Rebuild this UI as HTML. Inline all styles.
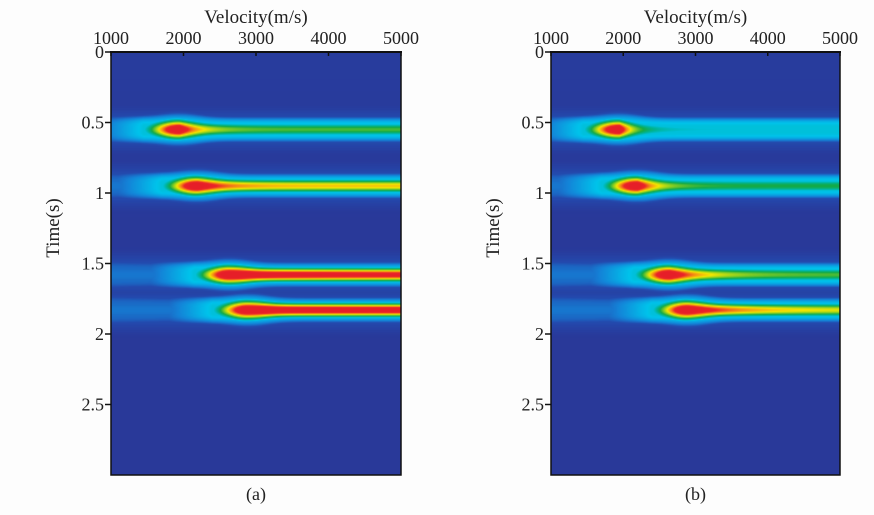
<!DOCTYPE html>
<html><head><meta charset="utf-8">
<style>
html,body{margin:0;padding:0;background:#fdfdfd;}
body{width:874px;height:515px;position:relative;overflow:hidden;font-family:"Liberation Serif",serif;color:#222;}
svg text{font-family:"Liberation Serif",serif;fill:#222;}
</style></head>
<body>
<canvas id="cva" width="290" height="423" style="position:absolute;left:111px;top:52px"></canvas>
<canvas id="cvb" width="289" height="423" style="position:absolute;left:551px;top:52px"></canvas>
<svg id="axes" width="874" height="515" style="position:absolute;left:0;top:0"></svg>
<script>
// data
const xTicks = [1000, 2000, 3000, 4000, 5000];
const yTicks = [0, 0.5, 1, 1.5, 2, 2.5];
const yTickLabels = ["0", "0.5", "1", "1.5", "2", "2.5"];
const panelLabels = ["(a)", "(b)"];
const eventTimes = [0.55, 0.95, 1.58, 1.83];
const eventPeakVel = [1950, 2200, 2650, 2900];
const plateauA = [0.64, 0.8, 0.95, 1.0];
const plateauB = [0.44, 0.6, 0.64, 0.74];
const decayA = [300, 350, 1500, 1500];
const decayB = [250, 300, 500, 700];

const panels = [
  {x0:111, x1:401, canvas:'cva', plateau:plateauA, decay:decayA, label:panelLabels[0]},
  {x0:551, x1:840, canvas:'cvb', plateau:plateauB, decay:decayB, label:panelLabels[1]}
];
const Y0 = 52, Y1 = 475, TMAX = 3.0, VMIN = 1000, VMAX = 5000;

const stops = [
  [0.0, [42,52,148]], [0.2, [35,75,175]], [0.3, [20,130,215]], [0.42,[0,195,235]],
  [0.52,[0,180,150]], [0.6,[20,170,70]], [0.7,[150,210,30]], [0.77,[245,230,0]],
  [0.85,[245,140,20]], [0.92,[235,35,40]], [1.0,[230,30,40]]
];
function cmap(v){
  v=Math.max(0,Math.min(1,v));
  for(let i=1;i<stops.length;i++){
    if(v<=stops[i][0]){
      const a=stops[i-1], b=stops[i], f=(v-a[0])/(b[0]-a[0]);
      return [0,1,2].map(k=>a[1][k]+(b[1][k]-a[1][k])*f);
    }
  }
  return stops[stops.length-1][1];
}

function field(v,t,p){
  let val = 0.04 + 0.03*Math.max(0,1-t/1.2);
  for(let i=0;i<eventTimes.length;i++){
    const t0=eventTimes[i], v0=eventPeakVel[i];
    const dt=t-t0;
    let A;
    if(v<=v0){ A = 1.05*Math.exp(-Math.pow((v-v0)/520,2)); }
    else { A = p.plateau[i] + (1.05-p.plateau[i])*Math.exp(-(v-v0)/p.decay[i]); }
    const wc = 0.058 + 0.022*Math.exp(-Math.pow((v-v0)/300,2)) + 0.03*Math.max(0,(v0-v)/1000);
    const core = A*Math.exp(-Math.pow(dt/wc,2));
    const hs = v>v0-500 ? 1 : Math.max(0.6, 1-(v0-500-v)/1500);
    const wh = 0.095 + 0.03*Math.exp(-Math.pow((v-v0)/350,2)) + 0.015*Math.max(0,(v0-v)/1000);
    const halo = 0.44*hs*Math.exp(-Math.pow(dt/wh,4));
    const glow = 0.28*Math.exp(-Math.pow(dt/0.14,2));
    val = Math.max(val, core, halo, glow);
  }
  return val;
}

panels.forEach(p=>{
  const c=document.getElementById(p.canvas), ctx=c.getContext('2d');
  const W=c.width, H=c.height, img=ctx.createImageData(W,H);
  for(let y=0;y<H;y++){
    const t=(y+0.5)/H*TMAX;
    for(let x=0;x<W;x++){
      const v=VMIN+(x+0.5)/W*(VMAX-VMIN);
      const col=cmap(field(v,t,p));
      const o=(y*W+x)*4;
      img.data[o]=col[0];img.data[o+1]=col[1];img.data[o+2]=col[2];img.data[o+3]=255;
    }
  }
  ctx.putImageData(img,0,0);
});

const svg=document.getElementById('axes');
const NS='http://www.w3.org/2000/svg';
function mk(tag,attrs,parent){const e=document.createElementNS(NS,tag);for(const k in attrs)e.setAttribute(k,attrs[k]);(parent||svg).appendChild(e);return e;}

panels.forEach((p,pi)=>{
  const xs=v=>p.x0+(v-VMIN)/(VMAX-VMIN)*(p.x1-p.x0);
  const ys=t=>Y0+t/TMAX*(Y1-Y0);
  const g=mk('g',{});
  
  
  const fr=mk('rect',{x:p.x0,y:Y0,width:p.x1-p.x0,height:Y1-Y0,fill:'none',stroke:'#111','stroke-width':1.5},g);
  
  
  mk('line',{x1:p.x0-1,y1:Y0,x2:p.x1+1,y2:Y0,stroke:'#111','stroke-width':2},g);
  xTicks.forEach(v=>{
    const x=xs(v);
    const tk=mk('line',{x1:x,y1:Y0,x2:x,y2:Y0+4,stroke:'#111','stroke-width':1.5},g);
    
    
    const tl=mk('text',{x:x,y:44,'font-size':18,'text-anchor':'middle'},g);
    tl.textContent=v;
    
    
  });
  yTicks.forEach((t,i)=>{
    const y=ys(t);
    const tk=mk('line',{x1:p.x0-6,y1:y,x2:p.x0,y2:y,stroke:'#111','stroke-width':1.5},g);
    
    
    const tl=mk('text',{x:p.x0-7,y:y+6,'font-size':18,'text-anchor':'end'},g);
    tl.textContent=yTickLabels[i];
    
    
  });
  const xt=mk('text',{x:(p.x0+p.x1)/2,y:23,'font-size':19,'text-anchor':'middle'},g);
  xt.textContent='Velocity(m/s)';
  
  
  const cx=p.x0-52, cy=228;
  const yt=mk('text',{x:cx,y:cy,'font-size':19,'text-anchor':'middle',transform:`rotate(-90 ${cx} ${cy})`},g);
  yt.textContent='Time(s)';
  
  
  const pl=mk('text',{x:(p.x0+p.x1)/2,y:500,'font-size':18,'text-anchor':'middle'},g);
  pl.textContent=p.label;
  
  
});
</script>
</body></html>
